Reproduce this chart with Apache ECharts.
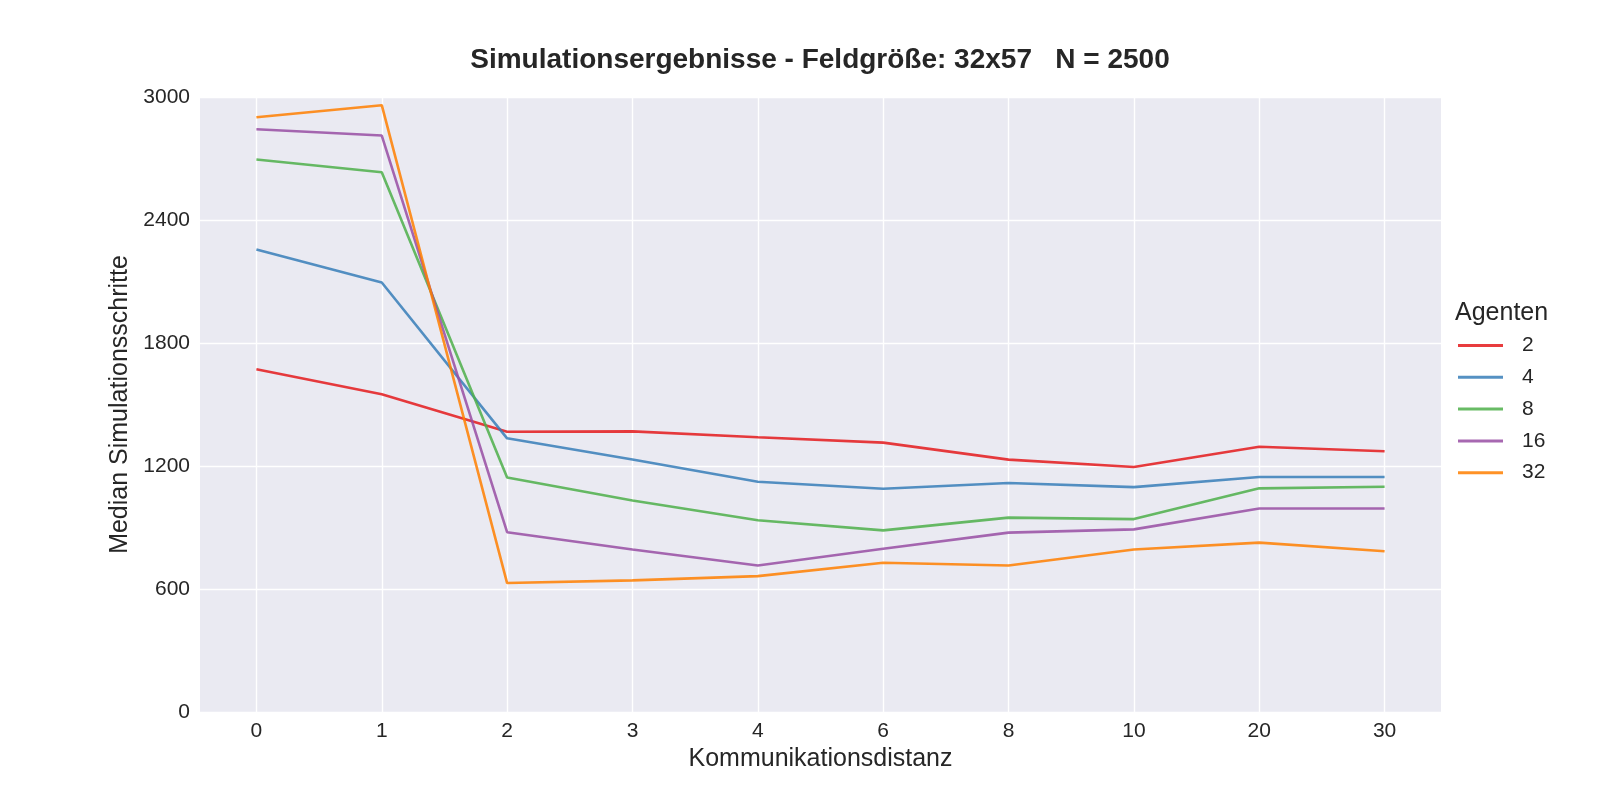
<!DOCTYPE html>
<html>
<head>
<meta charset="utf-8">
<script src="https://cdn.jsdelivr.net/npm/echarts@6/dist/echarts.min.js"></script>
<style>html,body{margin:0;padding:0;background:#fff}#c{width:1600px;height:800px}</style>
</head>
<body>
<div id="c"></div>
<script>
const categories = ['0','1','2','3','4','6','8','10','20','30'];
const agents2  = [1672,1550,1367,1369,1340,1314,1231,1195,1294,1272];
const agents4  = [2256,2095,1335,1232,1123,1089,1117,1097,1146,1146];
const agents8  = [2695,2633,1144,1032,935,886,948,941,1091,1099];
const agents16 = [2843,2812,877,793,715,796,875,891,993,993];
const agents32 = [2901,2960,629,642,663,728,715,793,826,784];
const yTicks = [0,600,1200,1800,2400,3000];

const seriesDefs = [
  {name:'2', data:agents2, color:'#E41A1C'},
  {name:'4', data:agents4, color:'#377EB8'},
  {name:'8', data:agents8, color:'#4DAF4A'},
  {name:'16', data:agents16, color:'#984EA3'},
  {name:'32', data:agents32, color:'#FF7F00'}
];
const idx = categories.map((c,i)=>i);
const font = 'Liberation Sans, Arial, sans-serif';
const chart = echarts.init(document.getElementById('c'));
chart.setOption({
  animation:false,
  backgroundColor:'#ffffff',
  title:[
    {text:'Simulationsergebnisse - Feldgröße: 32x57   N = 2500', left:815, top:41, textAlign:'center',
     textStyle:{fontFamily:font, fontSize:28, fontWeight:'bold', color:'#262626'}},
    {text:'Agenten', left:1450, top:296,
     textStyle:{fontFamily:font, fontSize:25, fontWeight:'normal', color:'#262626'}}
  ],
  legend:{
    orient:'vertical', left:1453, top:330, itemWidth:45, itemHeight:3, itemGap:10.8,
    icon:'rect',
    data:seriesDefs.map(s=>s.name),
    textStyle:{fontFamily:font, fontSize:21, color:'#262626', padding:[0,0,0,14]}
  },
  grid:{left:200, right:159, top:97, bottom:88, show:true, backgroundColor:'#EAEAF2', borderWidth:0, containLabel:false},
  xAxis:{
    type:'value', min:-0.45, max:9.45,
    name:'Kommunikationsdistanz', nameLocation:'middle', nameGap:35,
    nameTextStyle:{fontFamily:font, fontSize:25, color:'#262626'},
    axisLine:{show:false},
    axisTick:{show:false, customValues:idx},
    axisLabel:{customValues:idx, margin:9, fontFamily:font, fontSize:21, color:'#262626',
      formatter:(v)=>categories[Math.round(v)]},
    splitLine:{show:true, lineStyle:{color:'#ffffff', width:1.4}}
  },
  yAxis:{
    type:'value', min:yTicks[0], max:yTicks[yTicks.length-1], interval:600,
    name:'Median Simulationsschritte', nameLocation:'middle', nameGap:58,
    nameTextStyle:{fontFamily:font, fontSize:25, color:'#262626'},
    axisLine:{show:false}, axisTick:{show:false},
    axisLabel:{margin:10, fontFamily:font, fontSize:21, color:'#262626',
      formatter:(v)=>String(v)},
    splitLine:{show:true, lineStyle:{color:'#ffffff', width:1.4}}
  },
  series:seriesDefs.map(s=>({
    name:s.name, type:'line', showSymbol:false, symbol:'none',
    data:s.data.map((v,i)=>[i,v]),
    itemStyle:{color:s.color, opacity:0.85},
    lineStyle:{color:s.color, width:2.6, opacity:0.85}
  }))
});
</script>
</body>
</html>
